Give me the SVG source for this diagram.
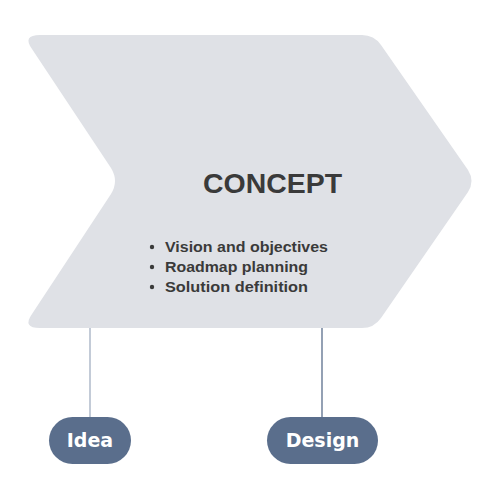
<svg xmlns="http://www.w3.org/2000/svg" width="500" height="500" viewBox="0 0 500 500">
<style>
.shape{fill:#dfe1e6}
.title{font-family:"Liberation Sans",Arial,sans-serif;font-weight:bold;font-size:28px;fill:#3a3a3a}
.item{font-family:"Liberation Sans",Arial,sans-serif;font-weight:bold;font-size:15px;fill:#3a3a3a}
.pill{fill:#5a6e8c}
.plabel{font-family:"DejaVu Sans",sans-serif;font-weight:bold;font-size:19px;fill:#ffffff;text-anchor:middle}
.conn{stroke-width:1.3;fill:none}
</style>
<g id="connectors">
<line class="conn" x1="90" y1="328" x2="90" y2="418" stroke="#a3afc2"/>
<line class="conn" x1="322" y1="328" x2="322" y2="418" stroke="#5a6e8c"/>
</g>
<g id="concept">
<path class="shape" d="M40,35 L362,35 Q374,35 381,45 L468,170 Q475,181 468,192 L381,318 Q374,328 362,328 L40,328 Q22,328 32,314 L111,194 Q119,181 111,168 L32,49 Q22,35 40,35 Z"/>
<text class="title" x="203" y="193" textLength="139" lengthAdjust="spacingAndGlyphs">CONCEPT</text>
<circle cx="152" cy="247" r="2.2" fill="#3a3a3a"/>
<circle cx="152" cy="267" r="2.2" fill="#3a3a3a"/>
<circle cx="152" cy="287" r="2.2" fill="#3a3a3a"/>
<text class="item" x="165" y="252" textLength="163" lengthAdjust="spacingAndGlyphs">Vision and objectives</text>
<text class="item" x="165" y="272" textLength="143" lengthAdjust="spacingAndGlyphs">Roadmap planning</text>
<text class="item" x="165" y="292" textLength="143" lengthAdjust="spacingAndGlyphs">Solution definition</text>
</g>
<g id="idea">
<rect class="pill" x="49" y="417" width="82" height="47" rx="23.5"/>
<text class="plabel" x="90" y="447">Idea</text>
</g>
<g id="design">
<rect class="pill" x="267" y="417" width="111" height="47" rx="23.5"/>
<text class="plabel" x="322.5" y="447">Design</text>
</g>
</svg>
